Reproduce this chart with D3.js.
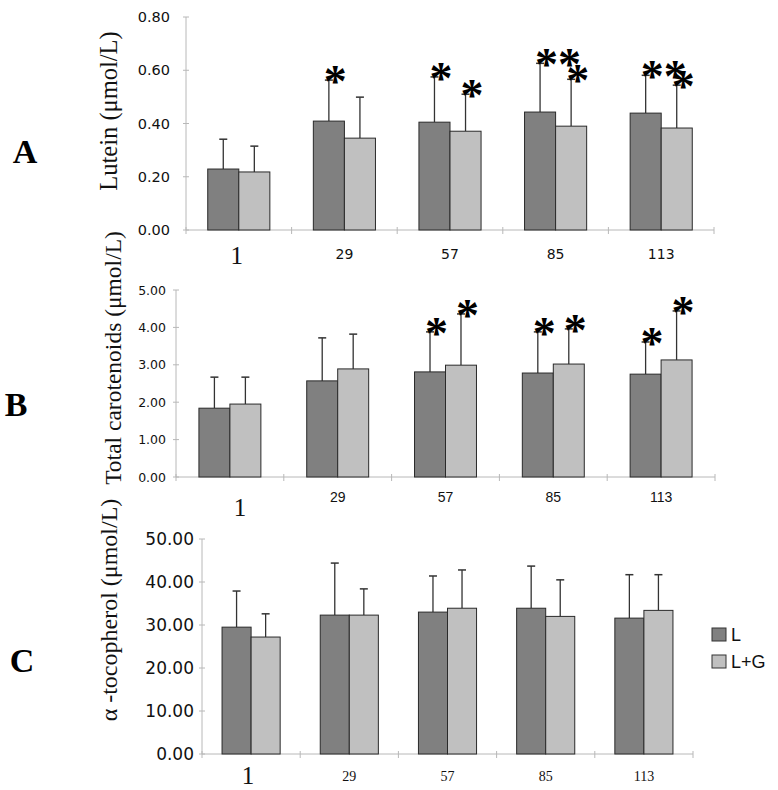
<!DOCTYPE html>
<html>
<head>
<meta charset="utf-8">
<script src="https://cdn.jsdelivr.net/npm/d3@7"></script>
<style>
  body { margin: 0; background: #fff; }
  svg { display: block; }
</style>
</head>
<body>
<svg id="chart" width="778" height="790"></svg>
<script>
// ---------- DATA ----------
const categories = ["1", "29", "57", "85", "113"];
const seriesNames = ["L", "L+G"];

// Panel A: Lutein (µmol/L)
const luteinL      = [0.229, 0.409, 0.405, 0.443, 0.439];
const luteinLG     = [0.218, 0.345, 0.371, 0.390, 0.383];
const luteinErrL   = [0.341, 0.563, 0.575, 0.626, 0.581];
const luteinErrLG  = [0.315, 0.499, 0.510, 0.566, 0.544];
const luteinSigL   = ["", "*", "*", "**", "**"];
const luteinSigLG  = ["", "", "*", "*", "*"];
const luteinTicks  = [0, 0.2, 0.4, 0.6, 0.8];

// Panel B: Total carotenoids (µmol/L)
const caroL        = [1.84, 2.57, 2.81, 2.78, 2.75];
const caroLG       = [1.95, 2.89, 2.99, 3.02, 3.13];
const caroErrL     = [2.67, 3.72, 3.88, 3.88, 3.61];
const caroErrLG    = [2.67, 3.82, 4.36, 3.96, 4.44];
const caroSigL     = ["", "", "*", "*", "*"];
const caroSigLG    = ["", "", "*", "*", "*"];
const caroTicks    = [0, 1, 2, 3, 4, 5];

// Panel C: alpha-tocopherol (µmol/L)
const tocoL        = [29.5, 32.3, 33.0, 33.9, 31.6];
const tocoLG       = [27.2, 32.3, 33.9, 32.0, 33.4];
const tocoErrL     = [37.9, 44.4, 41.4, 43.7, 41.7];
const tocoErrLG    = [32.6, 38.4, 42.8, 40.5, 41.7];
const tocoSigL     = ["", "", "", "", ""];
const tocoSigLG    = ["", "", "", "", ""];
const tocoTicks    = [0, 10, 20, 30, 40, 50];

// ---------- STYLE ----------
const colors = { "L": "#808080", "L+G": "#c0c0c0" };
const axisColor = "#b8b8b8";
const serif = "'Liberation Serif','Times New Roman',serif";
const sans = "'Liberation Sans',Arial,sans-serif";
const dejavu = "'DejaVu Sans',sans-serif";

const svg = d3.select("#chart");

function panel(cfg) {
  const g = svg.append("g");
  const y = d3.scaleLinear().domain([0, cfg.max]).range([cfg.y0, cfg.y1]);
  const x0 = d3.scaleBand().domain(categories).range([cfg.x0, cfg.x1]).padding(0);
  const x1 = d3.scaleBand().domain(seriesNames).range([0, x0.bandwidth()])
    .paddingInner(0).paddingOuter(cfg.pad);

  // axes lines
  g.append("line").attr("x1", cfg.x0).attr("x2", cfg.x0)
    .attr("y1", y(cfg.max)).attr("y2", y(0))
    .attr("stroke", axisColor).attr("stroke-width", 1);
  g.append("line").attr("x1", cfg.x0).attr("x2", cfg.x1)
    .attr("y1", y(0)).attr("y2", y(0))
    .attr("stroke", axisColor).attr("stroke-width", 1);

  // y ticks
  g.selectAll(".yt").data(cfg.ticks).join("line")
    .attr("x1", cfg.x0 - 3).attr("x2", cfg.x0 + 3)
    .attr("y1", d => y(d)).attr("y2", d => y(d))
    .attr("stroke", axisColor);
  g.selectAll(".yl").data(cfg.ticks).join("text")
    .attr("x", cfg.x0 - cfg.tickGap).attr("y", d => y(d))
    .attr("dy", "0.36em")
    .attr("text-anchor", "end")
    .attr("font-family", cfg.tickFont).attr("font-size", cfg.tickSize)
    .attr("fill", "#111")
    .text(d => d3.format(".2f")(d));

  // x ticks at band boundaries
  const bounds = categories.map(c => x0(c)).concat([cfg.x1]);
  g.selectAll(".xt").data(bounds).join("line")
    .attr("x1", d => d).attr("x2", d => d)
    .attr("y1", y(0) - 3).attr("y2", y(0) + 4)
    .attr("stroke", axisColor);

  // rows
  const rows = categories.map((c, i) => ({
    cat: c,
    vals: [
      { s: "L", v: cfg.L[i], e: cfg.eL[i], sig: cfg.sL[i] },
      { s: "L+G", v: cfg.LG[i], e: cfg.eLG[i], sig: cfg.sLG[i] }
    ]
  }));

  const grp = g.selectAll(".grp").data(rows).join("g")
    .attr("transform", d => `translate(${x0(d.cat)},0)`);

  // error bars (upper only)
  grp.selectAll(".err").data(d => d.vals).join("line")
    .attr("x1", d => x1(d.s) + x1.bandwidth() / 2)
    .attr("x2", d => x1(d.s) + x1.bandwidth() / 2)
    .attr("y1", d => y(d.v)).attr("y2", d => y(d.e))
    .attr("stroke", "#333").attr("stroke-width", 1.3);
  grp.selectAll(".cap").data(d => d.vals).join("line")
    .attr("x1", d => x1(d.s) + x1.bandwidth() / 2 - 4)
    .attr("x2", d => x1(d.s) + x1.bandwidth() / 2 + 4)
    .attr("y1", d => y(d.e)).attr("y2", d => y(d.e))
    .attr("stroke", "#333").attr("stroke-width", 1.5);

  // bars
  grp.selectAll(".bar").data(d => d.vals).join("rect")
    .attr("x", d => x1(d.s)).attr("width", x1.bandwidth())
    .attr("y", d => y(d.v)).attr("height", d => y(0) - y(d.v))
    .attr("fill", d => colors[d.s])
    .attr("stroke", "#2a2a2a").attr("stroke-width", 1);

  // significance asterisks
  grp.selectAll(".sig").data(d => d.vals.filter(v => v.sig)).join("text")
    .attr("x", d => x1(d.s) + x1.bandwidth() / 2 - 5)
    .attr("y", d => y(d.e) + 17)
    .attr("text-anchor", "start")
    .attr("font-family", serif).attr("font-weight", "bold")
    .attr("font-size", 46)
    .attr("fill", "#000")
    .text(d => d.sig);

  // x labels
  g.selectAll(".xl").data(categories).join("text")
    .attr("x", (d, i) => x0(d) + x0.bandwidth() / 2 + (i === 0 ? cfg.firstDx : 0))
    .attr("y", (d, i) => i === 0 ? cfg.firstY : cfg.labY)
    .attr("text-anchor", "middle")
    .attr("font-family", (d, i) => i === 0 ? serif : cfg.labFont)
    .attr("font-size", (d, i) => i === 0 ? 25 : cfg.labSize)
    .attr("fill", "#111")
    .text(d => d);

  // y title
  g.append("text")
    .attr("transform", `translate(${cfg.titleX},${cfg.titleY}) rotate(-90)`)
    .attr("text-anchor", "middle")
    .attr("font-family", serif).attr("font-size", cfg.titleSize)
    .attr("fill", "#111")
    .text(cfg.title);

  // panel letter
  g.append("text")
    .attr("x", cfg.letterX).attr("y", cfg.letterY)
    .attr("text-anchor", "middle")
    .attr("font-family", serif).attr("font-weight", "bold")
    .attr("font-size", 34).attr("fill", "#000")
    .text(cfg.letter);
}

panel({
  L: luteinL, LG: luteinLG, eL: luteinErrL, eLG: luteinErrLG,
  sL: luteinSigL, sLG: luteinSigLG, ticks: luteinTicks, max: 0.8,
  x0: 186, x1: 714, y0: 230, y1: 17, pad: 0.70,
  tickFont: dejavu, tickSize: 14.5, tickGap: 16,
  labFont: dejavu, labSize: 14, labY: 259, firstY: 264, firstDx: -2,
  title: "Lutein (\u03bcmol/L)", titleX: 117, titleY: 111, titleSize: 24.5,
  letter: "A", letterX: 25, letterY: 163
});

panel({
  L: caroL, LG: caroLG, eL: caroErrL, eLG: caroErrLG,
  sL: caroSigL, sLG: caroSigLG, ticks: caroTicks, max: 5,
  x0: 176, x1: 715, y0: 477, y1: 290, pad: 0.74,
  tickFont: dejavu, tickSize: 12.5, tickGap: 10,
  labFont: sans, labSize: 14, labY: 502, firstY: 516, firstDx: 10,
  title: "Total carotenoids (\u03bcmol/L)", titleX: 121, titleY: 358, titleSize: 23.5,
  letter: "B", letterX: 16, letterY: 416
});

panel({
  L: tocoL, LG: tocoLG, eL: tocoErrL, eLG: tocoErrLG,
  sL: tocoSigL, sLG: tocoSigLG, ticks: tocoTicks, max: 50,
  x0: 202, x1: 693, y0: 754, y1: 539, pad: 0.69,
  tickFont: dejavu, tickSize: 17, tickGap: 8,
  labFont: serif, labSize: 14, labY: 781, firstY: 784, firstDx: -3,
  title: "\u03b1 -tocopherol (\u03bcmol/L)", titleX: 117, titleY: 610, titleSize: 24,
  letter: "C", letterX: 22, letterY: 672
});

// legend
const legend = svg.append("g");
seriesNames.forEach((s, i) => {
  legend.append("rect")
    .attr("x", 712).attr("y", 628 + i * 27)
    .attr("width", 14).attr("height", 13)
    .attr("fill", colors[s]).attr("stroke", "#333").attr("stroke-width", 1);
  legend.append("text")
    .attr("x", 731).attr("y", 641 + i * 27)
    .attr("font-family", sans).attr("font-size", 18)
    .attr("fill", "#111")
    .text(s);
});
</script>
</body>
</html>
